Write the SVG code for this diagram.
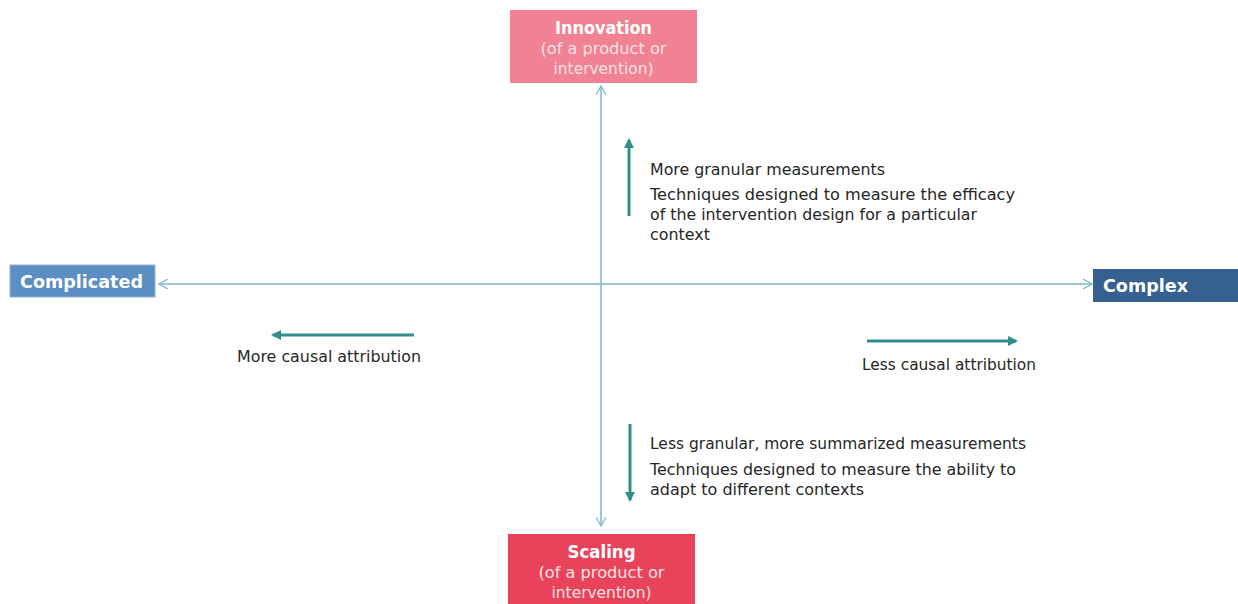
<svg xmlns="http://www.w3.org/2000/svg" width="1238" height="604" viewBox="0 0 1238 604">
<style>
.t{font-family:"DejaVu Sans","Liberation Sans",sans-serif;font-size:15px;fill:#262626}
.h{font-family:"DejaVu Sans","Liberation Sans",sans-serif;font-weight:bold;fill:#ffffff}
.s{font-family:"DejaVu Sans","Liberation Sans",sans-serif;font-size:15px;fill:#fbe3e7}
.axis{stroke:#7db9cf;stroke-width:1.5;fill:none}
.teal{stroke:#318e8e;stroke-width:3;fill:none}
</style>
<defs>
<marker id="open" viewBox="0 0 10 10" refX="9" refY="5" markerWidth="10" markerHeight="10" markerUnits="userSpaceOnUse" orient="auto-start-reverse">
<path d="M0,0 L9,5 L0,10" fill="none" stroke="#7db9cf" stroke-width="1.3"/>
</marker>
<marker id="tri" viewBox="0 0 10 10" refX="8" refY="5" markerWidth="10" markerHeight="10" markerUnits="userSpaceOnUse" orient="auto">
<path d="M0,0 L10,5 L0,10 Z" fill="#318e8e"/>
</marker>
</defs>
<rect width="1238" height="604" fill="#ffffff"/>
<g id="connectors">
<line class="axis" x1="601" y1="526" x2="601" y2="86" marker-start="url(#open)" marker-end="url(#open)"/>
<line class="axis" x1="159" y1="284" x2="1092" y2="284" marker-start="url(#open)" marker-end="url(#open)"/>
<line class="teal" x1="629" y1="216" x2="629" y2="140" marker-end="url(#tri)"/>
<line class="teal" x1="630" y1="424" x2="630" y2="500" marker-end="url(#tri)"/>
<line class="teal" x1="414" y1="335" x2="273" y2="335" marker-end="url(#tri)"/>
<line class="teal" x1="867" y1="341" x2="1016" y2="341" marker-end="url(#tri)"/>
</g>
<g id="innovation">
<rect x="510" y="10" width="187" height="73" fill="#f08294"/>
<text class="h" x="603.5" y="34" font-size="17" text-anchor="middle" textLength="97" lengthAdjust="spacingAndGlyphs">Innovation</text>
<text class="s" x="603.5" y="54" text-anchor="middle" textLength="126" lengthAdjust="spacingAndGlyphs">(of a product or</text>
<text class="s" x="603.5" y="74" text-anchor="middle" textLength="100" lengthAdjust="spacingAndGlyphs">intervention)</text>
</g>
<g id="scaling">
<rect x="508" y="534" width="187" height="72" fill="#e8435a"/>
<text class="h" x="601.5" y="558" font-size="17" text-anchor="middle" textLength="68" lengthAdjust="spacingAndGlyphs">Scaling</text>
<text class="s" x="601.5" y="578" text-anchor="middle" textLength="126" lengthAdjust="spacingAndGlyphs">(of a product or</text>
<text class="s" x="601.5" y="598" text-anchor="middle" textLength="100" lengthAdjust="spacingAndGlyphs">intervention)</text>
</g>
<g id="complicated">
<rect x="10" y="265" width="145" height="32" fill="#5b8ec3" stroke="#8fb3d6" stroke-width="1"/>
<text class="h" x="81.5" y="288" font-size="17" text-anchor="middle" textLength="123" lengthAdjust="spacingAndGlyphs">Complicated</text>
</g>
<g id="complex">
<rect x="1093" y="269" width="145" height="33" fill="#35608f"/>
<text class="h" x="1103" y="292" font-size="17" textLength="85" lengthAdjust="spacingAndGlyphs">Complex</text>
</g>
<g id="labels">
<text class="t" x="650" y="175" textLength="235" lengthAdjust="spacingAndGlyphs">More granular measurements</text>
<text class="t" x="650" y="200" textLength="365" lengthAdjust="spacingAndGlyphs">Techniques designed to measure the efficacy</text>
<text class="t" x="650" y="220" textLength="327" lengthAdjust="spacingAndGlyphs">of the intervention design for a particular</text>
<text class="t" x="650" y="240" textLength="60" lengthAdjust="spacingAndGlyphs">context</text>
<text class="t" x="237" y="362" textLength="184" lengthAdjust="spacingAndGlyphs">More causal attribution</text>
<text class="t" x="862" y="370" textLength="174" lengthAdjust="spacingAndGlyphs">Less causal attribution</text>
<text class="t" x="650" y="449" textLength="376" lengthAdjust="spacingAndGlyphs">Less granular, more summarized measurements</text>
<text class="t" x="650" y="475" textLength="366" lengthAdjust="spacingAndGlyphs">Techniques designed to measure the ability to</text>
<text class="t" x="650" y="495" textLength="214" lengthAdjust="spacingAndGlyphs">adapt to different contexts</text>
</g>
</svg>
